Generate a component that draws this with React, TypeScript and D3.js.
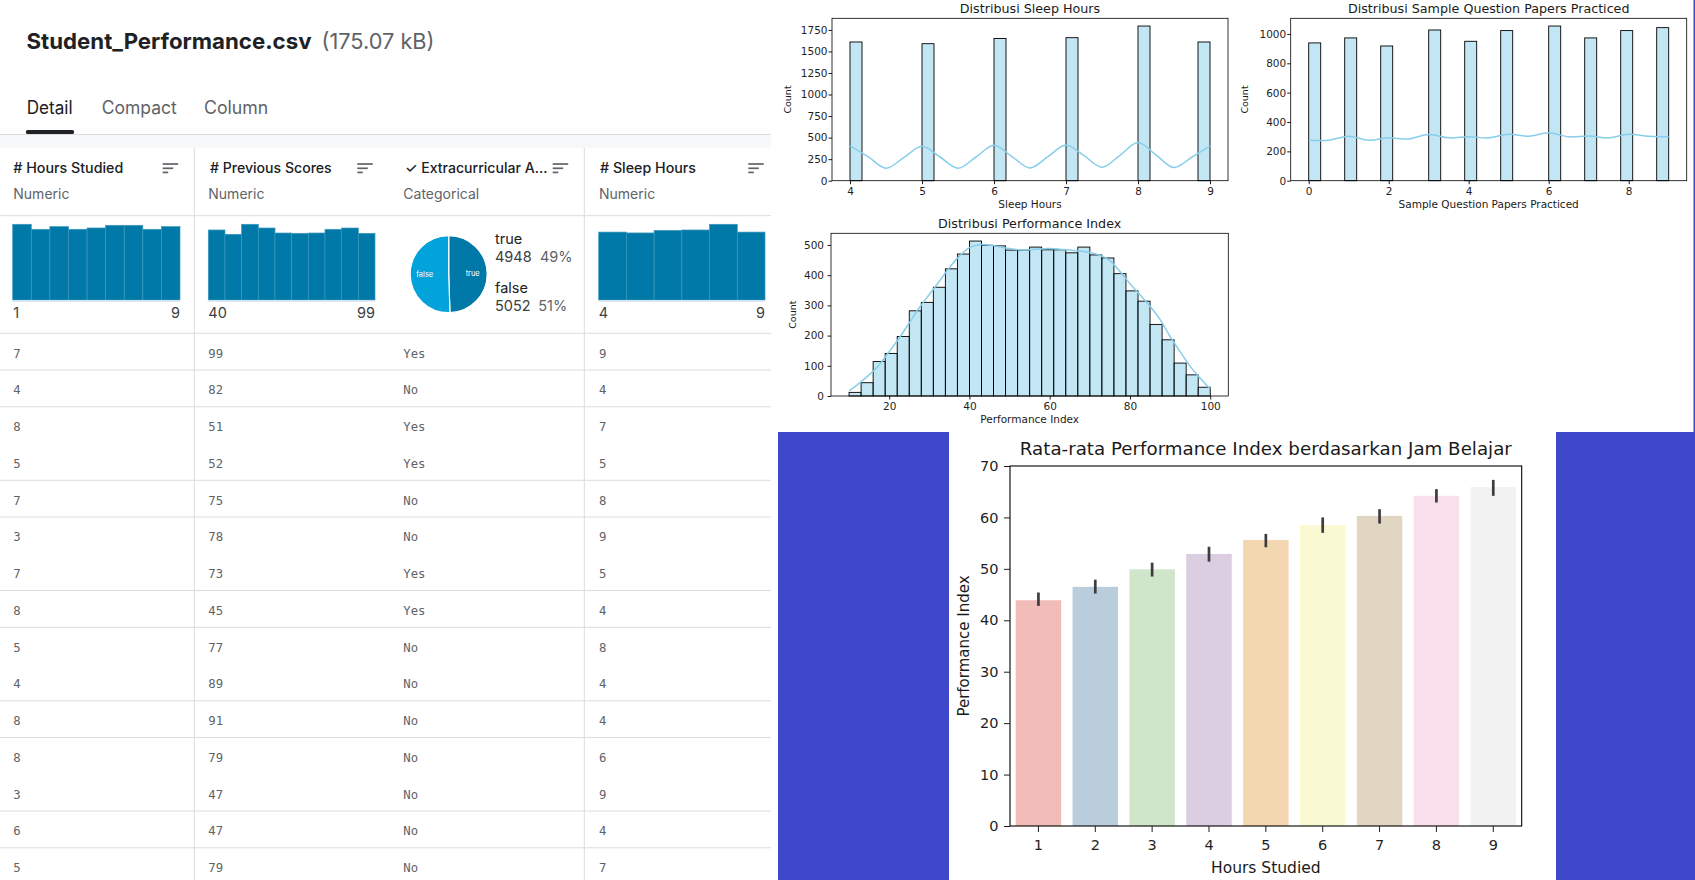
import { useEffect, useRef } from "react";
import * as d3 from "d3";

// ---- Kaggle data card ----
const tabLabels = ["Detail", "Compact", "Column"];
const columnNames = ["# Hours Studied", "# Previous Scores", "✓ Extracurricular A...", "# Sleep Hours"];
const columnTypes = ["Numeric", "Numeric", "Categorical", "Numeric"];

const hoursValues = ["1", "2", "3", "4", "5", "6", "7", "8", "9"];
const hoursCounts = [1135, 1060, 1100, 1060, 1080, 1120, 1120, 1060, 1100];
const previousBins = ["40", "46", "52", "58", "64", "70", "76", "82", "88", "94"];
const previousCounts = [924, 867, 999, 950, 884, 880, 884, 933, 950, 880];
const extraLabels = ["true", "false"];
const extraCounts = [4948, 5052];
const extraShares = ["49%", "51%"];

const rowHours = [7, 4, 8, 5, 7, 3, 7, 8, 5, 4, 8, 8, 3, 6, 5];
const rowPrevious = [99, 82, 51, 52, 75, 78, 73, 45, 77, 89, 91, 79, 47, 47, 79];
const rowExtra = ["Yes", "No", "Yes", "Yes", "No", "No", "Yes", "Yes", "No", "No", "No", "No", "No", "No", "No"];
const rowSleep = [9, 4, 7, 5, 8, 9, 5, 4, 8, 4, 4, 6, 9, 4, 7];

// ---- matplotlib histograms ----
const sleepValues = [4, 5, 6, 7, 8, 9];
const sleepCounts = [1610, 1590, 1650, 1660, 1795, 1610];
const sleepKdeX = [4, 4.25, 4.5, 4.75, 5, 5.25, 5.5, 5.75, 6, 6.25, 6.5, 6.75, 7, 7.25, 7.5, 7.75, 8, 8.25, 8.5, 8.75, 9];
const sleepKdeY = [405, 280, 145, 270, 400, 275, 145, 275, 410, 280, 148, 280, 415, 290, 157, 295, 442, 300, 152, 275, 405];

const paperValues = [0, 1, 2, 3, 4, 5, 6, 7, 8, 9];
const paperCounts = [939, 973, 918, 1027, 950, 1023, 1054, 973, 1023, 1043];
const paperKdeX = [0, 0.5, 1, 1.5, 2, 2.5, 3, 3.5, 4, 4.5, 5, 5.5, 6, 6.5, 7, 7.5, 8, 8.5, 9];
const paperKdeY = [276, 276, 303, 276, 292, 285, 314, 292, 299, 292, 317, 303, 326, 299, 305, 292, 317, 303, 300];

const perfBinStarts = [10, 13, 16, 19, 22, 25, 28, 31, 34, 37, 40, 43, 46, 49, 52, 55, 58, 61, 64, 67, 70, 73, 76, 79, 82, 85, 88, 91, 94, 97];
const perfBinWidth = 3;
const perfCounts = [12, 44, 114, 141, 197, 282, 310, 360, 421, 470, 513, 499, 497, 483, 483, 493, 484, 484, 474, 493, 467, 457, 405, 348, 314, 237, 186, 109, 70, 29];
const perfKdeX = [10, 12.5, 15, 17.5, 20, 22.5, 25, 27.5, 30, 32.5, 35, 37.5, 40, 42.5, 45, 47.5, 50, 52.5, 55, 57.5, 60, 62.5, 65, 67.5, 70, 72.5, 75, 77.5, 80, 82.5, 85, 87.5, 90, 92.5, 95, 97.5, 100];
const perfKdeY = [17, 42, 70, 103, 147, 192, 242, 292, 336, 380, 425, 463, 491, 501, 500, 494, 488, 484, 484, 487, 488, 486, 483, 480, 475, 466, 448, 412, 372, 335, 297, 253, 197, 147, 98, 59, 23];

// ---- seaborn bar chart ----
const studyHours = ["1", "2", "3", "4", "5", "6", "7", "8", "9"];
const studyMeans = [43.9, 46.5, 49.9, 52.9, 55.6, 58.5, 60.3, 64.2, 65.9];
const studyLow = [42.8, 45.2, 48.5, 51.4, 54.2, 57.0, 58.8, 62.9, 64.2];
const studyHigh = [45.4, 47.9, 51.2, 54.3, 56.8, 60.0, 61.6, 65.5, 67.3];
const studyTicks = [0, 10, 20, 30, 40, 50, 60, 70];

const kaggleFont = "Inter, 'Noto Sans', sans-serif";
const mplFont = "'DejaVu Sans', sans-serif";
const monoFont = "'DejaVu Sans Mono', 'Liberation Mono', monospace";
const blue = "#3f47cb";

function binOf(v, lo, hi, n) {
  const w = (hi - lo) / n;
  const k = Math.min(n - 1, Math.floor((v - lo) / w + 1e-9));
  return [lo + k * w, lo + (k + 1) * w];
}

function SortIcon({ x }) {
  return (
    <g stroke="#5f6368" strokeWidth={1.7}>
      <line x1={x} x2={x + 15.5} y1={164} y2={164} />
      <line x1={x} x2={x + 10.5} y1={168.3} y2={168.3} />
      <line x1={x} x2={x + 5.5} y1={172.4} y2={172.4} />
    </g>
  );
}

function MiniHist({ keys, counts, left, right }) {
  const x = d3.scaleBand().domain(keys).range([left, right]);
  const y = d3.scaleLinear().domain([0, d3.max(counts)]).range([300, 224.3]);
  return (
    <g>
      {keys.map((k, i) => (
        <rect
          key={k}
          x={x(k)}
          y={y(counts[i])}
          width={x.bandwidth()}
          height={y(0) - y(counts[i])}
          fill="#0079a8"
          stroke="#3c97bd"
          strokeWidth={0.7}
        />
      ))}
      <line x1={left} x2={right} y1={301} y2={301} stroke="#d3e4ee" strokeWidth={1.5} />
    </g>
  );
}

function ExtraPie() {
  const slices = d3.pie().sort(null)(extraCounts);
  const arc = d3.arc().innerRadius(0).outerRadius(38.5);
  const labelArc = d3.arc().innerRadius(24).outerRadius(24);
  const colors = ["#0078a8", "#02a2da"];
  return (
    <g transform="translate(448.7,274.2)">
      {slices.map((s, i) => (
        <path key={extraLabels[i]} d={arc(s)} fill={colors[i]} stroke="#ffffff" strokeWidth={1.2} />
      ))}
      {slices.map((s, i) => {
        const [cx, cy] = labelArc.centroid(s);
        return (
          <text key={extraLabels[i]} x={cx} y={cy + 2.5} textAnchor="middle" fontSize={7.5} fill="#ffffff" fontFamily={kaggleFont}>
            {extraLabels[i]}
          </text>
        );
      })}
    </g>
  );
}

function KaggleCard() {
  const colX = [13.3, 208.3, 403.3, 599];
  const headX = [13.3, 210, 405, 600];
  const headW = [110, 121.7, 142.5, 96];
  const iconX = [162.7, 357.3, 552.7, 748.3];
  const rowStep = 36.75;
  const rows = rowHours.map((h, i) => [h, rowPrevious[i], rowExtra[i], rowSleep[i]]);
  return (
    <g fontFamily={kaggleFont}>
      <text x={26.5} y={48.5} fontSize={22} fontWeight={700} fill="#202124" textLength={285} lengthAdjust="spacingAndGlyphs">
        Student_Performance.csv
      </text>
      <text x={321.5} y={48.5} fontSize={22} fill="#5f6368" textLength={113} lengthAdjust="spacingAndGlyphs">
        (175.07 kB)
      </text>
      {tabLabels.map((t, i) => (
        <text
          key={t}
          x={[26.7, 101.7, 204][i]}
          y={114}
          fontSize={18}
          fill={i === 0 ? "#202124" : "#5f6368"}
          textLength={[46, 75, 64.3][i]}
          lengthAdjust="spacingAndGlyphs"
        >
          {t}
        </text>
      ))}
      <rect x={26} y={130} width={48} height={4} rx={1.5} fill="#202124" />
      <rect x={0} y={134.5} width={771} height={13.5} fill="#f7f8fa" />
      <line x1={0} x2={771} y1={134.5} y2={134.5} stroke="#dadce0" />
      <line x1={194.3} x2={194.3} y1={148} y2={880} stroke="#dadce0" />
      <line x1={584.3} x2={584.3} y1={148} y2={880} stroke="#dadce0" />

      {columnNames.map((c, i) => (
        <g key={c}>
          <text
            x={headX[i]}
            y={173.3}
            fontSize={14}
            fontWeight={500}
            fill="#202124"
            textLength={headW[i]}
            lengthAdjust="spacingAndGlyphs"
          >
            {c}
          </text>
          <text x={colX[i]} y={199.3} fontSize={14} fill="#5f6368">
            {columnTypes[i]}
          </text>
          <SortIcon x={iconX[i]} />
        </g>
      ))}
      <line x1={0} x2={771} y1={215.7} y2={215.7} stroke="#dadce0" />

      <MiniHist keys={hoursValues} counts={hoursCounts} left={12.7} right={180} />
      <MiniHist keys={previousBins} counts={previousCounts} left={208.3} right={375} />
      <MiniHist keys={sleepValues.map(String)} counts={sleepCounts} left={598.7} right={765} />
      <ExtraPie />

      <g fontSize={14.5} fill="#3c4043">
        <text x={13.3} y={318.3}>{hoursValues[0]}</text>
        <text x={180} y={318.3} textAnchor="end">{hoursValues[hoursValues.length - 1]}</text>
        <text x={208.3} y={318.3}>40</text>
        <text x={375} y={318.3} textAnchor="end">99</text>
        <text x={598.7} y={318.3}>{sleepValues[0]}</text>
        <text x={765} y={318.3} textAnchor="end">{sleepValues[sleepValues.length - 1]}</text>
      </g>
      {extraLabels.map((l, i) => (
        <g key={l} fontSize={14.5}>
          <text x={495} y={244 + i * 49.3} fill="#202124">{l}</text>
          <text x={495} y={262.3 + i * 48.4} fill="#3c4043">{extraCounts[i]}</text>
          <text x={[540, 538.3][i]} y={262.3 + i * 48.4} fill="#5f6368">{extraShares[i]}</text>
        </g>
      ))}
      <line x1={0} x2={771} y1={333.3} y2={333.3} stroke="#dadce0" />

      {rows.map((r, i) => (
        <g key={i}>
          {r.map((v, j) => (
            <text key={j} x={colX[j]} y={357.5 + i * rowStep} fontSize={12.3} fill="#5f6368" fontFamily={monoFont}>
              {v}
            </text>
          ))}
          {(i + 1) % 3 !== 0 && i < rows.length - 1 && (
            <line x1={0} x2={771} y1={333.3 + (i + 1) * rowStep} y2={333.3 + (i + 1) * rowStep} stroke="#dadce0" />
          )}
        </g>
      ))}
    </g>
  );
}

function HistPanel({ frame, title, xLabel, values, counts, bins, kdeX, kdeY, xTicks, yTicks, yPad, yLabelX }) {
  const ref = useRef(null);

  useEffect(() => {
    const g = d3.select(ref.current);
    g.selectAll("*").remove();

    const [lo, hi] = d3.extent(values);
    const margin = (hi - lo) * 0.05;
    const x = d3.scaleLinear().domain([lo - margin, hi + margin]).range([frame.l, frame.r]);
    const y = d3.scaleLinear().domain([0, d3.max(counts) * 1.05]).range([frame.b, frame.t]);

    g.append("g")
      .selectAll("rect")
      .data(bins)
      .join("rect")
      .attr("x", (d) => x(d.x0))
      .attr("y", (d) => y(d.count))
      .attr("width", (d) => x(d.x1) - x(d.x0))
      .attr("height", (d) => y(0) - y(d.count))
      .attr("fill", "#87ceeb")
      .attr("fill-opacity", 0.5)
      .attr("stroke", "#000")
      .attr("stroke-width", 0.9);

    const line = d3
      .line()
      .x((d, i) => x(kdeX[i]))
      .y((d) => y(d))
      .curve(d3.curveCatmullRom);

    g.append("path")
      .attr("d", line(kdeY))
      .attr("fill", "none")
      .attr("stroke", "#87ceeb")
      .attr("stroke-width", 1.5);

    g.append("g")
      .attr("transform", `translate(0, ${frame.b})`)
      .call(d3.axisBottom(x).tickValues(xTicks).tickSize(3.5).tickPadding(3.5).tickFormat(d3.format("d")))
      .call((a) => a.select(".domain").remove())
      .attr("font-family", mplFont)
      .attr("font-size", 10.5)
      .attr("color", "#1f1f1f");

    g.append("g")
      .attr("transform", `translate(${frame.l}, 0)`)
      .call(d3.axisLeft(y).tickValues(yTicks).tickSize(3.5).tickPadding(yPad).tickFormat(d3.format("d")))
      .call((a) => a.select(".domain").remove())
      .attr("font-family", mplFont)
      .attr("font-size", 10.5)
      .attr("color", "#1f1f1f");

    g.append("rect")
      .attr("x", frame.l)
      .attr("y", frame.t)
      .attr("width", frame.r - frame.l)
      .attr("height", frame.b - frame.t)
      .attr("fill", "none")
      .attr("stroke", "#000")
      .attr("stroke-width", 0.8);

    g.append("text")
      .attr("x", (frame.l + frame.r) / 2)
      .attr("y", frame.t - 5.5)
      .attr("text-anchor", "middle")
      .attr("fill", "#1a1a1a")
      .style("font-family", mplFont)
      .style("font-size", "12.7px")
      .text(title);

    g.append("text")
      .attr("x", (frame.l + frame.r) / 2)
      .attr("y", frame.b + 27)
      .attr("text-anchor", "middle")
      .attr("fill", "#1a1a1a")
      .style("font-family", mplFont)
      .style("font-size", "10.5px")
      .text(xLabel);

    g.append("text")
      .attr("transform", `translate(${yLabelX}, ${(frame.t + frame.b) / 2}) rotate(-90)`)
      .attr("text-anchor", "middle")
      .attr("fill", "#1a1a1a")
      .style("font-family", mplFont)
      .style("font-size", "9.5px")
      .text("Count");
  }, []);

  return <g ref={ref} />;
}

function StudyBarChart() {
  const ref = useRef(null);

  useEffect(() => {
    const frame = { l: 1010, t: 466, r: 1521.7, b: 826 };
    const g = d3.select(ref.current);
    g.selectAll("*").remove();

    const x = d3.scaleBand().domain(studyHours).range([frame.l, frame.r]).paddingInner(0.2).paddingOuter(0.1);
    const y = d3.scaleLinear().domain([0, 70]).range([frame.b, frame.t]);
    const colors = d3.schemePastel1.map((c) => {
      const h = d3.hsl(c);
      h.s *= 0.75;
      return h.formatHex();
    });

    g.append("g")
      .selectAll("rect")
      .data(studyMeans)
      .join("rect")
      .attr("x", (d, i) => x(studyHours[i]))
      .attr("y", (d) => y(d))
      .attr("width", x.bandwidth())
      .attr("height", (d) => y(0) - y(d))
      .attr("fill", (d, i) => colors[i]);

    g.append("g")
      .selectAll("line")
      .data(studyHours)
      .join("line")
      .attr("x1", (d) => x(d) + x.bandwidth() / 2)
      .attr("x2", (d) => x(d) + x.bandwidth() / 2)
      .attr("y1", (d, i) => y(studyLow[i]))
      .attr("y2", (d, i) => y(studyHigh[i]))
      .attr("stroke", "#3d3d3d")
      .attr("stroke-width", 2.7);

    g.append("rect")
      .attr("x", frame.l)
      .attr("y", frame.t)
      .attr("width", frame.r - frame.l)
      .attr("height", frame.b - frame.t)
      .attr("fill", "none")
      .attr("stroke", "#000")
      .attr("stroke-width", 1.1);

    g.append("g")
      .attr("transform", `translate(0, ${frame.b})`)
      .call(d3.axisBottom(x).tickSize(6).tickPadding(7.5))
      .call((a) => a.select(".domain").remove())
      .attr("font-family", mplFont)
      .attr("font-size", 14.5)
      .attr("color", "#1f1f1f");

    g.append("g")
      .attr("transform", `translate(${frame.l}, 0)`)
      .call(d3.axisLeft(y).tickValues(studyTicks).tickSize(6).tickPadding(5.5))
      .call((a) => a.select(".domain").remove())
      .attr("font-family", mplFont)
      .attr("font-size", 14.5)
      .attr("color", "#1f1f1f");

    g.append("text")
      .attr("x", (frame.l + frame.r) / 2)
      .attr("y", 455)
      .attr("text-anchor", "middle")
      .attr("fill", "#1a1a1a")
      .attr("textLength", 492)
      .attr("lengthAdjust", "spacingAndGlyphs")
      .style("font-family", mplFont)
      .style("font-size", "18.5px")
      .text("Rata-rata Performance Index berdasarkan Jam Belajar");

    g.append("text")
      .attr("x", (frame.l + frame.r) / 2)
      .attr("y", 873)
      .attr("text-anchor", "middle")
      .attr("fill", "#1a1a1a")
      .style("font-family", mplFont)
      .style("font-size", "15.5px")
      .text("Hours Studied");

    g.append("text")
      .attr("transform", `translate(969, ${(frame.t + frame.b) / 2}) rotate(-90)`)
      .attr("text-anchor", "middle")
      .attr("fill", "#1a1a1a")
      .style("font-family", mplFont)
      .style("font-size", "15px")
      .text("Performance Index");
  }, []);

  return <g ref={ref} />;
}

export default function App() {
  const sleepBins = sleepValues.map((v, i) => {
    const [x0, x1] = binOf(v, d3.min(sleepValues), d3.max(sleepValues), 30);
    return { x0, x1, count: sleepCounts[i] };
  });
  const paperBins = paperValues.map((v, i) => {
    const [x0, x1] = binOf(v, d3.min(paperValues), d3.max(paperValues), 30);
    return { x0, x1, count: paperCounts[i] };
  });
  const perfBins = perfBinStarts.map((s, i) => ({ x0: s, x1: s + perfBinWidth, count: perfCounts[i] }));
  const perfValues = [perfBinStarts[0], perfBinStarts[perfBinStarts.length - 1] + perfBinWidth];

  return (
    <svg
      width={1695}
      height={880}
      style={{ position: "absolute", left: 0, top: 0, display: "block", background: "#ffffff" }}
    >
      <rect x={0} y={0} width={1695} height={880} fill="#ffffff" />
      <KaggleCard />
      <HistPanel
        frame={{ l: 832, t: 18.3, r: 1228, b: 180.7 }}
        title="Distribusi Sleep Hours"
        xLabel="Sleep Hours"
        values={sleepValues}
        counts={sleepCounts}
        bins={sleepBins}
        kdeX={sleepKdeX}
        kdeY={sleepKdeY}
        xTicks={sleepValues}
        yTicks={[0, 250, 500, 750, 1000, 1250, 1500, 1750]}
        yPad={1}
        yLabelX={791}
      />
      <HistPanel
        frame={{ l: 1290.7, t: 18.3, r: 1686.7, b: 180.7 }}
        title="Distribusi Sample Question Papers Practiced"
        xLabel="Sample Question Papers Practiced"
        values={paperValues}
        counts={paperCounts}
        bins={paperBins}
        kdeX={paperKdeX}
        kdeY={paperKdeY}
        xTicks={[0, 2, 4, 6, 8]}
        yTicks={[0, 200, 400, 600, 800, 1000]}
        yPad={1}
        yLabelX={1248}
      />
      <HistPanel
        frame={{ l: 831, t: 233.3, r: 1228.3, b: 396 }}
        title="Distribusi Performance Index"
        xLabel="Performance Index"
        values={perfValues}
        counts={perfCounts}
        bins={perfBins}
        kdeX={perfKdeX}
        kdeY={perfKdeY}
        xTicks={[20, 40, 60, 80, 100]}
        yTicks={[0, 100, 200, 300, 400, 500]}
        yPad={3.5}
        yLabelX={796}
      />
      <rect x={778} y={432} width={171} height={448} fill={blue} />
      <rect x={1556} y={432} width={139} height={448} fill={blue} />
      <rect x={1693.5} y={0} width={1.5} height={432} fill={blue} />
      <StudyBarChart />
    </svg>
  );
}
